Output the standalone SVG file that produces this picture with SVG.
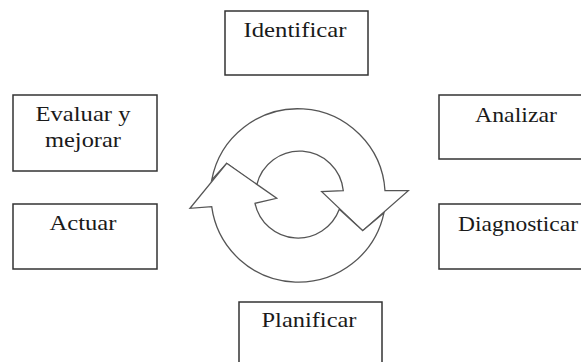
<svg xmlns="http://www.w3.org/2000/svg" width="581" height="362" viewBox="0 0 581 362">
<style>
.box{fill:#fff;stroke:#333;stroke-width:1.5}
.lbl{font-family:"Liberation Serif","Times New Roman",serif;font-size:21px;fill:#1a1a1a;text-anchor:middle}
.ring{fill:#fff;stroke:#555;stroke-width:1.3;stroke-linejoin:miter}
</style>
<rect width="581" height="362" fill="#fff"/>
<g id="identificar"><rect class="box" x="225" y="11" width="143" height="64"/><text class="lbl" x="295" y="37" textLength="103" lengthAdjust="spacingAndGlyphs">Identificar</text></g>
<g id="analizar"><rect class="box" x="439" y="95" width="150" height="64"/><text class="lbl" x="516" y="122" textLength="82" lengthAdjust="spacingAndGlyphs">Analizar</text></g>
<g id="diagnosticar"><rect class="box" x="439" y="204" width="150" height="65"/><text class="lbl" x="518" y="231" textLength="120" lengthAdjust="spacingAndGlyphs">Diagnosticar</text></g>
<g id="planificar"><rect class="box" x="239" y="302" width="143" height="70"/><text class="lbl" x="309" y="327" textLength="95" lengthAdjust="spacingAndGlyphs">Planificar</text></g>
<g id="actuar"><rect class="box" x="13" y="204" width="144" height="65"/><text class="lbl" x="83" y="230" textLength="67" lengthAdjust="spacingAndGlyphs">Actuar</text></g>
<g id="evaluar"><rect class="box" x="13" y="95" width="144" height="76"/><text class="lbl" x="83" y="121" textLength="95" lengthAdjust="spacingAndGlyphs">Evaluar y</text><text class="lbl" x="83" y="147" textLength="76" lengthAdjust="spacingAndGlyphs">mejorar</text></g>
<g id="connectors">
<path id="arrow-top" class="ring" d="M211.7,180 A87.5,87.5 0 0 1 385,190.7 L408.3,190.7 L362.7,230.7 L321.7,191.7 L343.3,190.7 A44,44 0 0 0 256.7,185 L226.7,163.3 Z"/>
<path id="arrow-bottom" class="ring" d="M384,212.7 A87.5,87.5 0 0 1 211.7,206.7 L190,208.3 L226.7,163.3 L276.7,198.3 L255,203.3 A44,44 0 0 0 339.3,209.3 L362.7,230.7 Z"/>
</g>
</svg>
